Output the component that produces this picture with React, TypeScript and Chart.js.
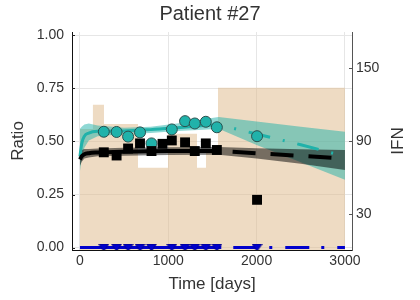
import React, { useEffect, useRef } from "react";
import { Chart, registerables } from "chart.js";

Chart.register(...registerables);

const TITLE = "Patient #27";
const X_TITLE = "Time [days]";
const Y_TITLE = "Ratio";
const Y1_TITLE = "IFN";

const X_TICKS = [0, 1000, 2000, 3000];
const Y_TICKS = [0, 0.25, 0.5, 0.75, 1.0];
const Y1_TICKS = [30, 90, 150];

// IFN dose (step function, right axis)
const IFN_DAYS = [0, 147, 272, 657, 997, 1325, 1427, 1563, 3000];
const IFN_VALUES = [100, 120, 104, 68, 96, 68, 80, 134, 134];

// observations
const BLACK_OBS_DAYS = [270, 415, 545, 680, 810, 935, 1040, 1190, 1300, 1425, 1550, 2005];
const BLACK_OBS = [0.449, 0.434, 0.467, 0.491, 0.455, 0.489, 0.505, 0.496, 0.455, 0.491, 0.46, 0.225];
const TEAL_OBS_DAYS = [270, 415, 545, 680, 810, 1040, 1190, 1300, 1425, 1550, 2005];
const TEAL_OBS = [0.546, 0.545, 0.523, 0.543, 0.491, 0.557, 0.596, 0.585, 0.593, 0.567, 0.525];
const BLUE_OBS_DAYS = [270, 415, 545, 680, 810, 1040, 1190, 1300, 1425, 1550, 2005];
const BLUE_OBS = [0, 0, 0, 0, 0, 0, 0, 0, 0, 0, 0];

// model fits
const TEAL_FIT_DAYS = [0, 20, 50, 100, 200, 500, 800, 1100, 1400, 1570];
const TEAL_FIT = [0.43, 0.49, 0.525, 0.54, 0.548, 0.55, 0.556, 0.565, 0.575, 0.58];
const TEAL_PRED_DAYS = [1570, 2000, 2500, 3000];
const TEAL_PRED = [0.58, 0.535, 0.485, 0.43];

const TEAL_BAND_DAYS = [0, 20, 50, 100, 200, 500, 800, 1100, 1400, 1570, 2000, 2500, 3000];
const TEAL_BAND_HI = [0.56, 0.57, 0.58, 0.585, 0.575, 0.565, 0.57, 0.585, 0.605, 0.615, 0.594, 0.57, 0.546];
const TEAL_BAND_LO = [0.36, 0.42, 0.47, 0.505, 0.525, 0.535, 0.54, 0.55, 0.555, 0.56, 0.484, 0.402, 0.32];

const BLACK_FIT_DAYS = [0, 20, 50, 100, 200, 500, 1000, 1570];
const BLACK_FIT = [0.415, 0.43, 0.44, 0.445, 0.448, 0.452, 0.455, 0.455];
const BLACK_PRED_DAYS = [1570, 3000];
const BLACK_PRED = [0.455, 0.42];

const BLACK_BAND_DAYS = [0, 20, 50, 100, 200, 500, 1000, 1570, 2000, 2500, 3000];
const BLACK_BAND_HI = [0.455, 0.46, 0.465, 0.465, 0.467, 0.47, 0.473, 0.474, 0.468, 0.464, 0.46];
const BLACK_BAND_LO = [0.385, 0.405, 0.42, 0.425, 0.43, 0.433, 0.436, 0.437, 0.42, 0.395, 0.366];

const BLUE_FIT_DAYS = [0, 1600];
const BLUE_FIT = [0, 0];
const BLUE_PRED_DAYS = [1600, 3000];
const BLUE_PRED = [0, 0];

const FONT = "'Liberation Sans', Arial, Helvetica, sans-serif";
const TEXT = "#333333";

const pts = (xs: number[], ys: number[]) => xs.map((x, i) => ({ x, y: ys[i] }));

function makeDownTriangle(): HTMLCanvasElement {
  const c = document.createElement("canvas");
  c.width = 11;
  c.height = 8;
  const g = c.getContext("2d")!;
  g.beginPath();
  g.moveTo(0.5, 0.5);
  g.lineTo(10.5, 0.5);
  g.lineTo(5.5, 7.5);
  g.closePath();
  g.fillStyle = "#0000cd";
  g.fill();
  g.lineWidth = 1;
  g.strokeStyle = "#00008b";
  g.stroke();
  return c;
}

export default function App() {
  const ref = useRef<HTMLCanvasElement>(null);

  useEffect(() => {
    const canvas = ref.current;
    if (!canvas) return;

    const base = { pointRadius: 0, pointHoverRadius: 0, fill: false } as any;
    const datasets: any[] = [];
    const push = (d: any) => { datasets.push(d); return datasets.length - 1; };

    push({ ...base, data: pts(IFN_DAYS, IFN_VALUES), yAxisID: "y1", stepped: true,
      fill: "origin", backgroundColor: "rgba(222,184,135,0.5)", borderColor: "transparent", borderWidth: 0, order: 100 });

    const tLo = push({ ...base, data: pts(TEAL_BAND_DAYS, TEAL_BAND_LO), borderColor: "transparent", borderWidth: 0, order: 91 });
    push({ ...base, data: pts(TEAL_BAND_DAYS, TEAL_BAND_HI), borderColor: "transparent", borderWidth: 0,
      fill: tLo, backgroundColor: "rgba(32,178,170,0.5)", order: 90 });
    const bLo = push({ ...base, data: pts(BLACK_BAND_DAYS, BLACK_BAND_LO), borderColor: "transparent", borderWidth: 0, order: 81 });
    push({ ...base, data: pts(BLACK_BAND_DAYS, BLACK_BAND_HI), borderColor: "transparent", borderWidth: 0,
      fill: bLo, backgroundColor: "rgba(0,0,0,0.5)", order: 80 });

    push({ ...base, data: pts(TEAL_FIT_DAYS, TEAL_FIT), borderColor: "#20b2aa", borderWidth: 3,
      cubicInterpolationMode: "monotone", order: 70 });
    push({ ...base, data: pts(TEAL_PRED_DAYS, TEAL_PRED), borderColor: "#20b2aa", borderWidth: 3,
      borderDash: [22, 13, 2, 13], borderDashOffset: 19, order: 69 });
    push({ ...base, data: pts(BLACK_FIT_DAYS, BLACK_FIT), borderColor: "#000000", borderWidth: 4,
      cubicInterpolationMode: "monotone", order: 60 });
    push({ ...base, data: pts(BLACK_PRED_DAYS, BLACK_PRED), borderColor: "#000000", borderWidth: 4,
      borderDash: [23, 15], borderDashOffset: 24, order: 59 });
    push({ ...base, data: pts(BLUE_FIT_DAYS, BLUE_FIT), borderColor: "#0000cd", borderWidth: 3, order: 50 });
    push({ ...base, data: pts(BLUE_PRED_DAYS, BLUE_PRED), borderColor: "#0000cd", borderWidth: 3,
      borderDash: [24, 12, 3, 13], borderDashOffset: 40, order: 49 });

    push({ data: pts(TEAL_OBS_DAYS, TEAL_OBS), showLine: false, pointStyle: "circle", pointRadius: 5.5,
      pointBackgroundColor: "#20b2aa", pointBorderColor: "#2a4f4d", pointBorderWidth: 1, order: 40 });
    push({ data: pts(BLACK_OBS_DAYS, BLACK_OBS), showLine: false, pointStyle: "rect", pointRadius: 7,
      pointBackgroundColor: "#000000", pointBorderColor: "#000000", pointBorderWidth: 0, order: 30 });
    push({ data: pts(BLUE_OBS_DAYS, BLUE_OBS), showLine: false, pointStyle: makeDownTriangle(),
      pointRadius: 6, borderWidth: 3, order: 20 });

    const extras = {
      id: "extras",
      afterDraw(chart: any) {
        const { ctx, chartArea, scales } = chart;
        ctx.save();
        ctx.lineWidth = 1;
        ctx.strokeStyle = "#222";
        Y_TICKS.forEach((v) => {
          const y = Math.round(scales.y.getPixelForValue(v)) + 0.5;
          ctx.beginPath(); ctx.moveTo(chartArea.left, y); ctx.lineTo(chartArea.left + 3, y); ctx.stroke();
        });
        ctx.strokeStyle = "#555";
        Y1_TICKS.forEach((v) => {
          const y = Math.round(scales.y1.getPixelForValue(v)) + 0.5;
          ctx.beginPath(); ctx.moveTo(chartArea.right - 3, y); ctx.lineTo(chartArea.right, y); ctx.stroke();
        });
        ctx.translate(chartArea.right + 46, (chartArea.top + chartArea.bottom) / 2);
        ctx.rotate(-Math.PI / 2);
        ctx.font = `17px ${FONT}`;
        ctx.fillStyle = TEXT;
        ctx.textAlign = "center";
        ctx.textBaseline = "middle";
        ctx.fillText(Y1_TITLE, 0, 0);
        ctx.restore();
      },
    };

    const chart = new Chart(canvas, {
      type: "line",
      data: { datasets },
      plugins: [extras],
      options: {
        responsive: false,
        animation: false,
        devicePixelRatio: 1,
        events: [],
        layout: { padding: 0 },
        plugins: {
          legend: { display: false },
          tooltip: { enabled: false },
          title: { display: true, text: TITLE, color: TEXT,
            font: { size: 20, family: FONT, weight: "normal" }, padding: { top: 2, bottom: 6 } },
        },
        scales: {
          x: {
            type: "linear", min: -90, max: 3080,
            afterBuildTicks: (s: any) => { s.ticks = X_TICKS.map((value) => ({ value })); },
            afterFit: (s: any) => { s.height = 50; },
            ticks: { color: TEXT, font: { size: 14, family: FONT }, padding: 3, maxRotation: 0,
              callback: (v: any) => String(v) },
            grid: { color: "#e6e6e6", drawTicks: false },
            border: { display: true, color: "#111", width: 1 },
            title: { display: true, text: X_TITLE, color: TEXT, font: { size: 17, family: FONT }, padding: { top: 0, bottom: 5 } },
          },
          y: {
            type: "linear", position: "left", min: -0.0117, max: 1.0164,
            afterBuildTicks: (s: any) => { s.ticks = Y_TICKS.map((value) => ({ value })); },
            afterFit: (s: any) => { s.width = 72; },
            ticks: { color: TEXT, font: { size: 14, family: FONT }, padding: 8,
              callback: (v: any) => Number(v).toFixed(2) },
            grid: { color: "#e6e6e6", drawTicks: false },
            border: { display: true, color: "#111", width: 1 },
            title: { display: true, text: Y_TITLE, color: TEXT, font: { size: 17, family: FONT }, padding: { top: 8, bottom: 0 } },
          },
          y1: {
            type: "linear", position: "right", min: 0, max: 180,
            afterBuildTicks: (s: any) => { s.ticks = Y1_TICKS.map((value) => ({ value })); },
            afterFit: (s: any) => { s.width = 68; },
            ticks: { color: TEXT, font: { size: 14, family: FONT }, padding: 4 },
            grid: { display: false, drawTicks: false },
            border: { display: true, color: "#555", width: 1 },
          },
        },
      } as any,
    });

    return () => chart.destroy();
  }, []);

  return (
    <div style={{ position: "absolute", left: 0, top: 0, width: 420, height: 300, background: "#fff" }}>
      <canvas ref={ref} width={420} height={300} style={{ display: "block", width: 420, height: 300 }} />
    </div>
  );
}
